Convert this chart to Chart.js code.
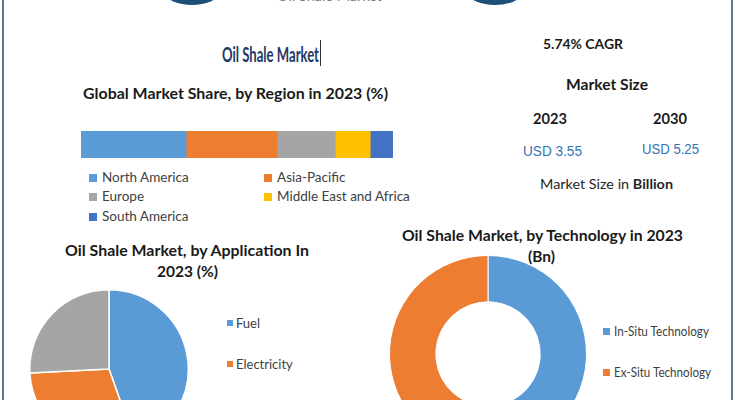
<!DOCTYPE html>
<html>
<head>
<meta charset="utf-8">
<script src="https://cdn.jsdelivr.net/npm/chart.js@4"></script>
<style>
  html, body { margin: 0; padding: 0; }
  body { width: 735px; height: 400px; overflow: hidden; background: #fff; position: relative; font-family: Lato, "Noto Sans", sans-serif; }
  .abs { position: absolute; }
  .t { position: absolute; white-space: nowrap; line-height: 1; transform-origin: left center; }
  canvas { display: block; }
</style>
</head>
<body>
<script>
// ---------------- DATA ----------------
const regionCategories = ["North America", "Asia-Pacific", "Europe", "Middle East and Africa", "South America"];
const regionShares = [33.7, 29.2, 18.6, 11.2, 7.3];

const applicationCategories = ["Fuel", "Electricity", "Others"];
const applicationShares = [44.6, 29.6, 25.8];

const technologyCategories = ["In-Situ Technology", "Ex-Situ Technology"];
const technologyValues = [1.85, 1.70];

const cagrLabel = "5.74% CAGR";
const sizeYears = ["2023", "2030"];
const sizeValues = ["USD 3.55", "USD 5.25"];

const officeColors = ["#5B9BD5", "#ED7D31", "#A5A5A5", "#FFC000", "#4472C4"];
// --------------------------------------

const body = document.body;

function box(x, y, w, h, style) {
  const d = document.createElement("div");
  d.className = "abs";
  Object.assign(d.style, { left: x + "px", top: y + "px", width: w + "px", height: h + "px" }, style || {});
  body.appendChild(d);
  return d;
}

// text placed with left edge x, vertical centre cy, squeezed/stretched to target width
function text(str, x, cy, w, size, weight, color, family, html) {
  const d = document.createElement("div");
  d.className = "t";
  if (html) d.innerHTML = html; else d.textContent = str;
  const fam = family || 'Lato, "Noto Sans", sans-serif';
  Object.assign(d.style, {
    left: x + "px", top: (cy - size / 2) + "px", height: size + "px",
    fontSize: size + "px", fontWeight: weight, color: color, fontFamily: fam
  });
  body.appendChild(d);
  const natural = d.getBoundingClientRect().width;
  if (w && natural > 0) d.style.transform = "scaleX(" + (w / natural) + ")";
  return d;
}

function chartCanvas(x, y, w, h) {
  const wrap = box(x, y, w, h);
  const c = document.createElement("canvas");
  c.width = w; c.height = h;
  c.style.width = w + "px"; c.style.height = h + "px";
  wrap.appendChild(c);
  return c;
}

// frame borders
box(2, 0, 2, 400, { background: "#5a7896" });
box(731, 0, 2, 400, { background: "#5a7896" });

// top decorative circles (cut off)
box(142, -95, 100, 100, { background: "#1F4E79", borderRadius: "50%" });
box(445, -95, 100, 100, { background: "#1F4E79", borderRadius: "50%" });
text("Oil Shale Market", 277, -5, 105, 15, 400, "#7a7a7a");

// headline + right panel
text("Oil Shale Market", 222, 53.5, 97, 21, 700, "#1F3864");
box(320, 40, 1, 26, { background: "#333" });
text(cagrLabel, 543, 43.5, 80, 14, 700, "#1a1a1a");
text("Market Size", 566, 84.5, 82, 15, 700, "#1a1a1a");
text(sizeYears[0], 533, 118, 34, 15, 700, "#1a1a1a");
text(sizeYears[1], 653, 118, 34, 15, 700, "#1a1a1a");
text(sizeValues[0], 523, 150, 59, 15, 400, "#2E75B6", '"Liberation Sans", Arial, sans-serif');
text(sizeValues[1], 642, 148.5, 57, 15, 400, "#2E75B6", '"Liberation Sans", Arial, sans-serif');
text("", 540, 184, 133, 14, 400, "#262626", null, 'Market Size in <b>Billion</b>');

// ---- Region stacked bar ----
text("Global Market Share, by Region in 2023 (%)", 83, 94, 305, 14.5, 700, "#1a1a1a");
const regionTotal = regionShares.reduce((a, b) => a + b, 0);
new Chart(chartCanvas(81, 131, 312, 27), {
  type: "bar",
  data: {
    labels: ["Share"],
    datasets: regionCategories.map((name, i) => ({
      label: name, data: [regionShares[i]], backgroundColor: officeColors[i],
      barPercentage: 1, categoryPercentage: 1, borderWidth: 0
    }))
  },
  options: {
    indexAxis: "y", responsive: false, animation: false,
    layout: { padding: 0 },
    plugins: { legend: { display: false }, tooltip: { enabled: false } },
    scales: {
      x: { stacked: true, display: false, min: 0, max: regionTotal },
      y: { stacked: true, display: false }
    }
  }
});
const regionLegendPos = [[89, 178], [264, 178], [89, 197], [264, 197], [89, 217]];
regionCategories.forEach((name, i) => {
  const [x, cy] = regionLegendPos[i];
  box(x, cy - 4, 8, 8, { background: officeColors[i] });
  text(name, x + 13, cy, null, 13.5, 400, "#404040");
});

// ---- Application pie ----
text("Oil Shale Market, by Application In", 65, 251, 244, 15.5, 700, "#1a1a1a");
text("2023 (%)", 157, 272, 61, 15.5, 700, "#1a1a1a");
new Chart(chartCanvas(29, 289, 160, 160), {
  type: "pie",
  data: {
    labels: applicationCategories,
    datasets: [{ data: applicationShares, backgroundColor: officeColors.slice(0, 3), borderColor: "#fff", borderWidth: 1.5, hoverOffset: 0 }]
  },
  options: {
    responsive: false, animation: false, layout: { padding: 0 },
    plugins: { legend: { display: false }, tooltip: { enabled: false } }
  }
});
// legend entries spaced 41px apart; only those inside the picture are drawn (the third falls below the crop)
applicationCategories.forEach((name, i) => {
  const cy = 323 + i * 41;
  if (cy > 392) return;
  box(227, cy - 3, 6, 6, { background: officeColors[i] });
  text(name, 236, cy, null, 13, 400, "#404040");
});

// ---- Technology doughnut ----
text("Oil Shale Market, by Technology in 2023", 402, 236, 281, 15.5, 700, "#1a1a1a");
text("(Bn)", 528, 257, 27, 15.5, 700, "#1a1a1a");
new Chart(chartCanvas(389, 255, 198, 198), {
  type: "doughnut",
  data: {
    labels: technologyCategories,
    datasets: [{ data: technologyValues, backgroundColor: officeColors.slice(0, 2), borderColor: "#fff", borderWidth: 1, hoverOffset: 0 }]
  },
  options: {
    responsive: false, animation: false, layout: { padding: 0 }, cutout: "53%",
    plugins: { legend: { display: false }, tooltip: { enabled: false } }
  }
});
const techLegendY = [331, 372];
technologyCategories.forEach((name, i) => {
  box(603, techLegendY[i] - 3.5, 7, 7, { background: officeColors[i] });
  text(name, 614, techLegendY[i], 95 + i * 2, 13, 400, "#404040");
});
</script>
</body>
</html>
